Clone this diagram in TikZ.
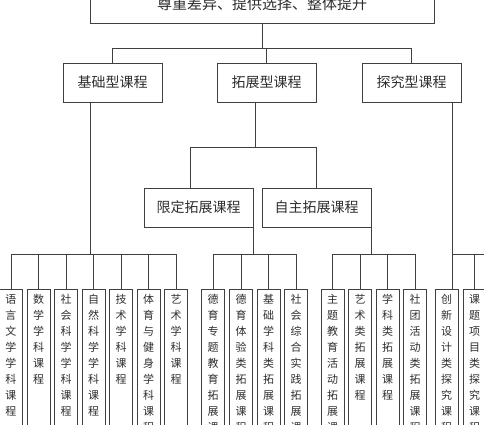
\documentclass[tikz,border=0pt]{standalone}
\usepackage{fontspec}
\newfontfamily\cjk{Noto Sans CJK SC}
\usepackage{tikz}

\definecolor{linegray}{HTML}{404040}
\definecolor{textgray}{HTML}{2E2E2E}

\newcommand{\vtxt}[1]{\parbox[t][150pt][t]{12pt}{\centering\XeTeXlinebreaklocale "zh"\XeTeXlinebreakskip=0pt plus 2pt #1}}

\tikzset{
  box/.style={draw=linegray, line width=0.9pt, text=textgray, inner sep=0pt,
    minimum height=39pt, font=\cjk\fontsize{14}{16}\selectfont},
  leaf/.style={draw=linegray, line width=0.9pt, text=textgray, anchor=north,
    inner xsep=5.5pt, inner ysep=5pt, font=\cjk\fontsize{11}{16}\selectfont},
  conn/.style={draw=linegray, line width=0.9pt}
}

\begin{document}
\begin{tikzpicture}[x=1pt,y=-1pt]
  \useasboundingbox (0,0) rectangle (484,425);
  \fill[white] (0,0) rectangle (484,425);
  \clip (0,0) rectangle (484,425);

  % top and first level
  \node[box, minimum width=344pt, minimum height=38pt, font=\cjk\fontsize{15}{16}\selectfont] (top) at (262,4) {尊重差异、提供选择、整体提升};
  \node[box, minimum width=99pt] (jichu) at (112.5,82.5) {基础型课程};
  \node[box, minimum width=99pt] (tuozhan) at (266.5,82.5) {拓展型课程};
  \node[box, minimum width=99pt] (tanjiu) at (411.5,82.5) {探究型课程};

  \node[box, minimum width=109pt] (xianding) at (198.5,207.5) {限定拓展课程};
  \node[box, minimum width=109pt] (zizhu) at (316.5,207.5) {自主拓展课程};

  % leaves
  \node[leaf] (yuwen) at (11,289) {\vtxt{语言文学学科课程}};
  \node[leaf] (shuxue) at (38.5,289) {\vtxt{数学学科课程}};
  \node[leaf] (shehuike) at (66,289) {\vtxt{社会科学学科课程}};
  \node[leaf] (ziran) at (93.5,289) {\vtxt{自然科学学科课程}};
  \node[leaf] (jishu) at (121,289) {\vtxt{技术学科课程}};
  \node[leaf] (tiyu) at (148.5,289) {\vtxt{体育与健身学科课程}};
  \node[leaf] (yishu) at (176,289) {\vtxt{艺术学科课程}};

  \node[leaf] (dezt) at (213,289) {\vtxt{德育专题教育拓展课程}};
  \node[leaf] (dety) at (241,289) {\vtxt{德育体验类拓展课程}};
  \node[leaf] (jcxk) at (268.5,289) {\vtxt{基础学科类拓展课程}};
  \node[leaf] (shsj) at (296,289) {\vtxt{社会综合实践拓展课程}};

  \node[leaf] (zhuti) at (332.5,289) {\vtxt{主题教育活动拓展课程}};
  \node[leaf] (yslei) at (360,289) {\vtxt{艺术类拓展课程}};
  \node[leaf] (xklei) at (387.5,289) {\vtxt{学科类拓展课程}};
  \node[leaf] (shetuan) at (415,289) {\vtxt{社团活动类拓展课程}};

  \node[leaf] (chuangxin) at (446.5,289) {\vtxt{创新设计类探究课程}};
  \node[leaf] (ketu) at (474.5,289) {\vtxt{课题项目类探究课程}};

  % connectors
  \draw[conn] (top.south) -- ++(0,25) coordinate (b0);
  \draw[conn] (jichu.north) |- (b0) -| (tanjiu.north);
  \draw[conn] (tuozhan.north) -- (tuozhan.north |- b0);

  \draw[conn] ([xshift=-11pt]tuozhan.south) -- ++(0,45) coordinate (b1);
  \draw[conn] ([xshift=-8pt]xianding.north) |- (b1) -| (zizhu.north);

  \draw[conn] ([xshift=28pt]jichu.south west) -- ++(0,152) coordinate (b2);
  \draw[conn] (yuwen.north) |- (b2) -| (yishu.north);
  \foreach \n in {shuxue,shehuike,ziran,jishu,tiyu}
    \draw[conn] (\n.north) -- (\n.north |- b2);

  \draw[conn] (xianding.south east) -- ++(0,27) coordinate (b3);
  \draw[conn] (dezt.north) |- (b3) -| (shsj.north);
  \foreach \n in {dety,jcxk}
    \draw[conn] (\n.north) -- (\n.north |- b3);

  \draw[conn] (zizhu.south east) -- ++(0,27) coordinate (b4);
  \draw[conn] (zhuti.north) |- (b4) -| (shetuan.north);
  \foreach \n in {yslei,xklei}
    \draw[conn] (\n.north) -- (\n.north |- b4);

  \draw[conn] ([xshift=-9pt]tanjiu.south east) coordinate (t4) -- (t4 |- chuangxin.north);
  \path (t4) ++(0,152) coordinate (b5);
  \draw[conn] (b5) -- ++(40,0);
  \draw[conn] (ketu.north) -- (ketu.north |- b5);
\end{tikzpicture}
\end{document}
